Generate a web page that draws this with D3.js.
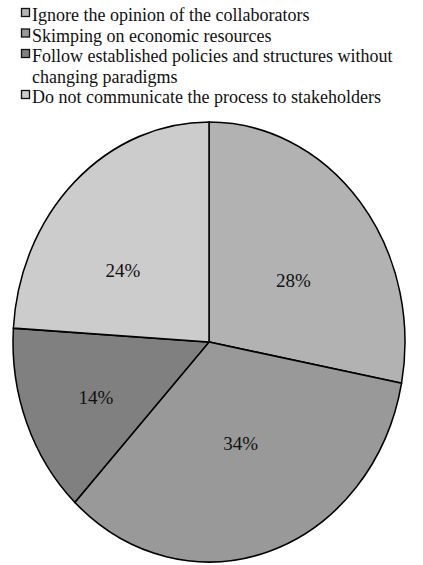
<!DOCTYPE html>
<html>
<head>
<meta charset="utf-8">
<script src="https://cdn.jsdelivr.net/npm/d3@7"></script>
<style>
  html, body { margin: 0; padding: 0; background: #fff; }
  svg { display: block; }
  .serif { font-family: "Times New Roman", "Liberation Serif", Tinos, serif; }
</style>
</head>
<body>
<svg id="chart" width="423" height="565"></svg>
<script>
const legendLines = [
  ["Ignore the opinion of the collaborators"],
  ["Skimping on economic resources"],
  ["Follow established policies and structures without", "changing paradigms"],
  ["Do not communicate the process to stakeholders"]
];
const values = [28, 34, 14, 24];
const colors = ["#b2b2b2", "#999999", "#808080", "#cccccc"];
// small per-slice nudges of the percentage labels (px)
const labelNudge = [[9, 9], [1.5, -3], [-22, 15], [-19, 9]];

function draw() {
  const svg = d3.select("#chart");
  svg.selectAll("*").remove();

  // Pie, stretched vertically into an ellipse
  const cx = 209, cy = 342, rx = 196, ry = 220;
  const pie = d3.pie().sort(null).value(d => d);
  const arcs = pie(values);
  const arc = d3.arc().innerRadius(0).outerRadius(rx);

  svg.append("g")
    .attr("transform", `translate(${cx},${cy}) scale(1,${ry / rx})`)
    .selectAll("path").data(arcs).join("path")
    .attr("d", arc)
    .attr("fill", (d, i) => colors[i])
    .attr("stroke", "#000")
    .attr("stroke-width", 1.5);

  // Legend
  const legend = svg.append("g");
  let lineIdx = 0;
  const lineH = 20.5, firstBase = 21;
  legendLines.forEach((lines, i) => {
    const base = firstBase + lineIdx * lineH;
    legend.append("rect")
      .attr("x", 21.5).attr("y", base - 12.5)
      .attr("width", 8).attr("height", 8)
      .attr("fill", colors[i]).attr("stroke", "#111").attr("stroke-width", 1.3);
    lines.forEach((ln, j) => {
      legend.append("text")
        .attr("class", "serif")
        .attr("x", 32).attr("y", base + j * lineH)
        .attr("font-size", 18)
        .attr("fill", "#111")
        .text(ln);
    });
    lineIdx += lines.length;
  });

  // Percentage labels
  const labelR = 0.5;
  svg.append("g").attr("transform", `translate(${cx},${cy})`)
    .selectAll("text").data(arcs).join("text")
    .attr("class", "serif")
    .attr("x", (d, i) => Math.sin((d.startAngle + d.endAngle) / 2) * labelR * rx + labelNudge[i][0])
    .attr("y", (d, i) => -Math.cos((d.startAngle + d.endAngle) / 2) * labelR * ry + labelNudge[i][1] + 6.5)
    .attr("text-anchor", "middle")
    .attr("font-size", 19)
    .attr("fill", "#111")
    .text(d => d.data + "%");
}

draw();
if (document.fonts && document.fonts.load) {
  document.fonts.load('18px "Times New Roman"').then(draw).catch(() => {});
}
</script>
</body>
</html>
